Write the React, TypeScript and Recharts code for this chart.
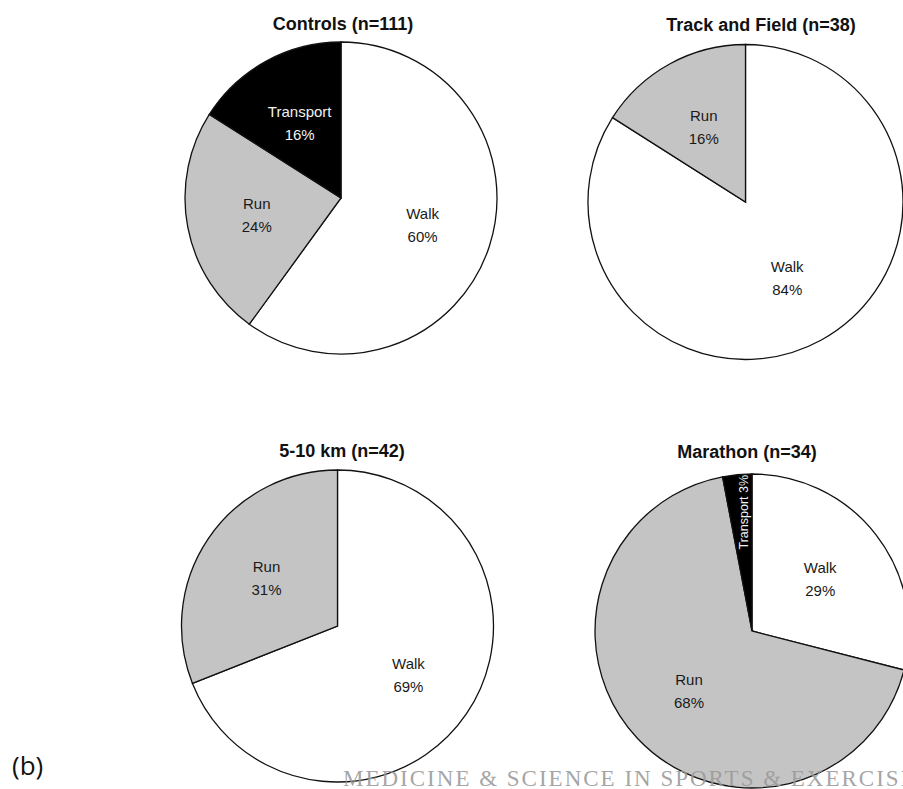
import { PieChart, Pie, Cell } from 'recharts';

// activity categories, in the clockwise order they appear from 12 o'clock
const categories = ['Walk', 'Run', 'Transport'];
const categoryColors = ['#ffffff', '#c4c4c4', '#000000'];

// percentages per group (Walk, Run, Transport)
const controls = [60, 24, 16];
const trackAndField = [84, 16, 0];
const fiveToTenKm = [69, 31, 0];
const marathon = [29, 68, 3];

const groupTitles = [
  'Controls (n=111)',
  'Track and Field (n=38)',
  '5-10 km (n=42)',
  'Marathon (n=34)'
];
const groupValues = [controls, trackAndField, fiveToTenKm, marathon];

// panel layout: pie centre, radius and title position
const panels = [
  { cx: 341, cy: 198, r: 156, titleX: 343, titleY: 30 },
  { cx: 745.5, cy: 202, r: 157.5, titleX: 761, titleY: 31 },
  { cx: 337.5, cy: 626, r: 156, titleX: 342, titleY: 457 },
  { cx: 752, cy: 631, r: 157, titleX: 747, titleY: 458 }
];

const W = 903;
const H = 789;
const RADIAN = Math.PI / 180;
const FONT = '"Liberation Sans", Arial, sans-serif';

const buildData = (values: number[]) =>
  categories
    .map((name, i) => ({ name, value: values[i], color: categoryColors[i] }))
    .filter(d => d.value > 0);

const renderLabel = (props: any) => {
  const { cx, cy, midAngle, outerRadius, percent, name, value } = props;
  const textColor = name === 'Transport' ? '#f2f2f2' : '#1a1a1a';

  // thin slices get a single rotated line near the rim
  if (percent < 0.05) {
    const rr = outerRadius * 0.76;
    const x = cx + rr * Math.cos(-midAngle * RADIAN) + 3;
    const y = cy + rr * Math.sin(-midAngle * RADIAN);
    return (
      <text
        x={x}
        y={y}
        fill={textColor}
        fontFamily={FONT}
        fontSize={12.5}
        textAnchor="middle"
        dominantBaseline="central"
        transform={`rotate(-90 ${x} ${y})`}
      >
        {`${name} ${value}%`}
      </text>
    );
  }

  const rr = outerRadius * 0.55;
  const x = cx + rr * Math.cos(-midAngle * RADIAN);
  const y = cy + rr * Math.sin(-midAngle * RADIAN);
  return (
    <text
      x={x}
      y={y}
      fill={textColor}
      fontFamily={FONT}
      fontSize={15}
      textAnchor="middle"
      dominantBaseline="central"
    >
      <tspan x={x} dy={-11.5}>{name}</tspan>
      <tspan x={x} dy={23}>{`${value}%`}</tspan>
    </text>
  );
};

export default function App() {
  return (
    <div style={{ position: 'absolute', left: 0, top: 0, width: W, height: H, background: '#fff' }}>
      <PieChart width={W} height={H} margin={{ top: 0, right: 0, bottom: 0, left: 0 }}>
        {groupValues.map((values, gi) => {
          const data = buildData(values);
          const p = panels[gi];
          return (
            <Pie
              key={groupTitles[gi]}
              data={data}
              dataKey="value"
              nameKey="name"
              cx={p.cx}
              cy={p.cy}
              outerRadius={p.r}
              startAngle={90}
              endAngle={-270}
              stroke="#111"
              strokeWidth={1.3}
              labelLine={false}
              label={renderLabel}
              isAnimationActive={false}
            >
              {data.map((d, i) => (
                <Cell key={`cell-${gi}-${i}`} fill={d.color} />
              ))}
            </Pie>
          );
        })}
      </PieChart>

      <svg
        width={W}
        height={H}
        style={{ position: 'absolute', left: 0, top: 0, pointerEvents: 'none' }}
      >
        {groupTitles.map((t, i) => (
          <text
            key={t}
            x={panels[i].titleX}
            y={panels[i].titleY}
            textAnchor="middle"
            fontFamily={FONT}
            fontWeight="bold"
            fontSize={18}
            fill="#111"
          >
            {t}
          </text>
        ))}
        <text x={12} y={775} fontFamily='"Open Sans", sans-serif' fontSize={26} fill="#111">
          (b)
        </text>
        {/* journal watermark, cut at the right edge as in the scan */}
        <text
          x={343}
          y={786}
          fontFamily='"Liberation Serif", "DejaVu Serif", serif'
          fontSize={23}
          letterSpacing={2}
          fill="#9a9a9a"
          fillOpacity={0.9}
        >
          MEDICINE &amp; SCIENCE IN SPORTS &amp; EXERCISE
        </text>
      </svg>
    </div>
  );
}
